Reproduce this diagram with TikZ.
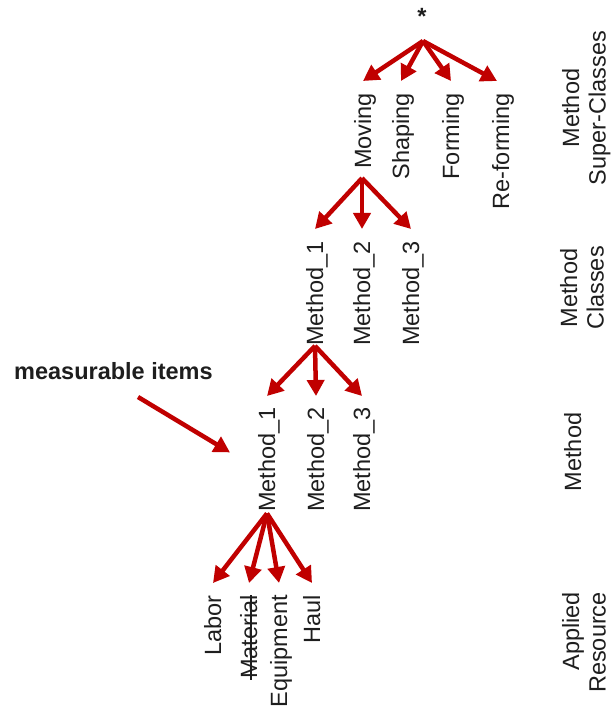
\documentclass[tikz,border=0pt]{standalone}
\usepackage{fontspec}
\setmainfont{Liberation Sans}
\usetikzlibrary{arrows.meta,calc}
\definecolor{arrowred}{RGB}{192,0,0}
\definecolor{ink}{RGB}{30,30,30}
\begin{document}
\begin{tikzpicture}[x=1pt,y=-1pt,
  every node/.style={text=ink},
  item/.style={rotate=90, anchor=base east, inner sep=0pt,
    font=\fontsize{23.5}{27.5}\selectfont},
  levellabel/.style={rotate=90, inner sep=0pt,
    font=\fontsize{23.5}{26.5}\selectfont},
  arr/.style={draw=arrowred, line width=4.5pt,
    -{Triangle[length=16pt,width=17pt]}},
  strike/.style={draw=ink, line width=1.8pt},
]
\useasboundingbox (0,0) rectangle (611,708);

% root of the hierarchy
\node[inner sep=0pt, anchor=base, font=\bfseries\fontsize{23.5}{27.5}\selectfont] (root) at (422,24.5) {*};

% method super-classes
\node[item] (moving)    at (371,93) {Moving};
\node[item] (shaping)   at (409,93) {Shaping};
\node[item] (forming)   at (459,93) {Forming};
\node[item] (reforming) at (509,93) {Re-forming};

% method classes
\node[item] (c1) at (323,241) {Method\_1};
\node[item] (c2) at (370,241) {Method\_2};
\node[item] (c3) at (419,241) {Method\_3};

% methods
\node[item] (m1) at (275,407) {Method\_1};
\node[item] (m2) at (324,407) {Method\_2};
\node[item] (m3) at (370,407) {Method\_3};

% applied resources
\node[item] (labor)     at (221,595) {Labor};
\node[item] (material)  at (257,595) {Material};
\node[item] (equipment) at (287,595) {Equipment};
\node[item] (haul)      at (320,595) {Haul};
\draw[strike] ($(material.base west)+(-6,1)$) -- ($(material.base east)+(-6,0)$);

% level names
\node[levellabel, align=center, anchor=north] (lsuper)   at (562,108) {Method\\Super-Classes};
\node[levellabel, align=center, anchor=north] (lclasses) at (560,288) {Method\\Classes};
\node[levellabel, anchor=north]               (lmethod)  at (564,452) {Method};
\node[levellabel, align=right, anchor=north east] (lapplied) at (562,592) {Applied\\Resource};

% annotation
\node[inner sep=0pt, anchor=base west, font=\bfseries\fontsize{23.5}{28}\selectfont] (meas) at (14,379) {measurable items};

% connectors
\coordinate (rootapex) at ($(root.base)+(1,16.5)$);
\foreach \c/\dx in {moving/-8, shaping/-8, forming/-8, reforming/-12}
  \draw[arr] (rootapex) -- ($(\c.base east)+(\dx,-12)$);

\coordinate (movapex) at ($(moving.base west)+(-9,9)$);
\foreach \c in {c1,c2,c3}
  \draw[arr] (movapex) -- ($(\c.base east)+(-8,-12)$);

\coordinate (c1apex) at ($(c1.base west)+(-8,0)$);
\foreach \c in {m1,m2,m3}
  \draw[arr] (c1apex) -- ($(\c.base east)+(-8,-11)$);

\coordinate (m1apex) at ($(m1.base west)+(-8,1.5)$);
\foreach \c in {labor,material,equipment,haul}
  \draw[arr] (m1apex) -- ($(\c.base east)+(-8,-12)$);

\draw[arr] ($(meas.base west)+(124,18)$) -- ($(m1.base west)+(-45,-59.5)$);
\end{tikzpicture}
\end{document}
